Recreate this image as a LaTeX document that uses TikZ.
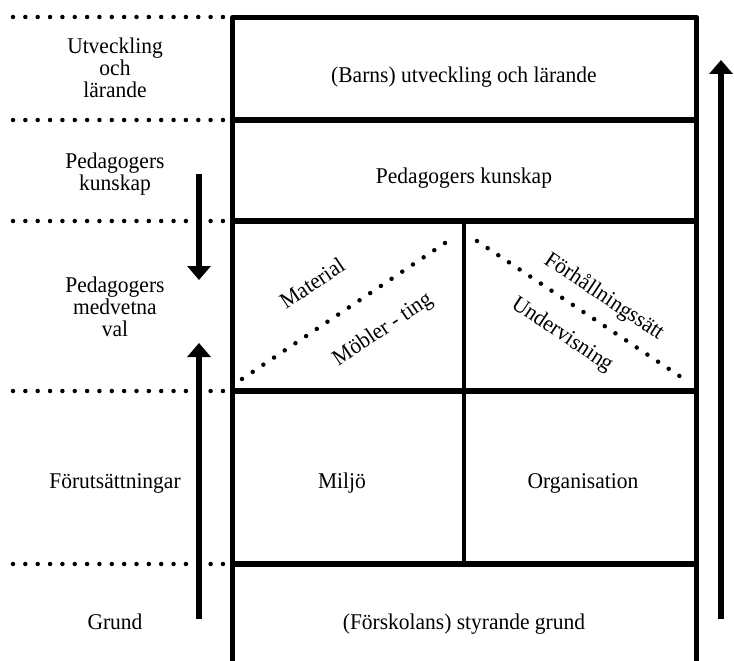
\documentclass[tikz,border=0pt]{standalone}
\usepackage{fontspec}
\setmainfont{Liberation Serif}[FakeStretch=0.955]
\usetikzlibrary{arrows.meta}
\begin{document}
\begin{tikzpicture}[x=1pt,y=-1pt,
  frame/.style={line width=5.8pt, line join=round},
  divider/.style={line width=5.8pt},
  midwall/.style={line width=4.8pt},
  dotrow/.style={line width=4.5pt, line cap=round, dash pattern=on 0pt off 12.35pt},
  diagdots/.style={line width=4.5pt, line cap=round, dash pattern=on 0pt off #1},
  lbl/.style={font=\fontsize{22.5}{22}\selectfont, align=center, inner sep=0pt},
  flow/.style={line width=5.5pt, -{Triangle[length=14pt,width=23pt]}},
]
\useasboundingbox (0,0) rectangle (734,661);

% dotted level lines
\foreach \yy in {17,120,221,391,564}
  \draw[dotrow] (13,\yy) -- (223.1,\yy);

% frame
\draw[frame] (232.5,661) -- (232.5,17.5) -- (696.5,17.5) -- (696.5,661);
\foreach \yy in {120,221,391,564}
  \draw[divider] (232.5,\yy) -- (696.5,\yy);
\draw[midwall] (464,221) -- (464,564);

% diagonal dotted lines
\draw[diagdots=12.86pt] (242,379) -- (445,243);
\draw[diagdots=12.8pt] (477,241) -- (690,383);

% arrows
\coordinate (dA) at (199,174); \coordinate (dB) at (199,280);
\coordinate (uA) at (199,619); \coordinate (uB) at (199,343);
\coordinate (rA) at (721,619); \coordinate (rB) at (721,60);
\draw[flow] (dA) -- (dB);
\draw[flow] (uA) -- (uB);
\draw[flow] (rA) -- (rB);

% left labels
\node[lbl] (lUtv) at (115,67.7) {Utveckling\\och\\lärande};
\node[lbl] (lPk) at (115,174) {Pedagogers\\kunskap};
\node[lbl] (lPmv) at (115,306.5) {Pedagogers\\medvetna\\val};
\node[lbl, anchor=base] (lFor) at (115,488) {Förutsättningar};
\node[lbl, anchor=base] (lGr) at (115,629) {Grund};

% box labels
\node[lbl, anchor=base] (bUtv) at (464,82) {(Barns) utveckling och lärande};
\node[lbl, anchor=base] (bPk) at (464,183) {Pedagogers kunskap};
\node[lbl, anchor=base] (bMil) at (342,488) {Miljö};
\node[lbl, anchor=base] (bOrg) at (583,488) {Organisation};
\node[lbl, anchor=base] (bGr) at (464,629) {(Förskolans) styrande grund};

% diagonal labels
\node[lbl, rotate=33.8] (dMat) at (312,283) {Material};
\node[lbl, rotate=33.8] (dMob) at (383,330) {Möbler - ting};
\node[lbl, rotate=-33.7] (dFor) at (604,297) {Förhållningssätt};
\node[lbl, rotate=-33.7] (dUnd) at (562,335) {Undervisning};
\end{tikzpicture}
\end{document}
